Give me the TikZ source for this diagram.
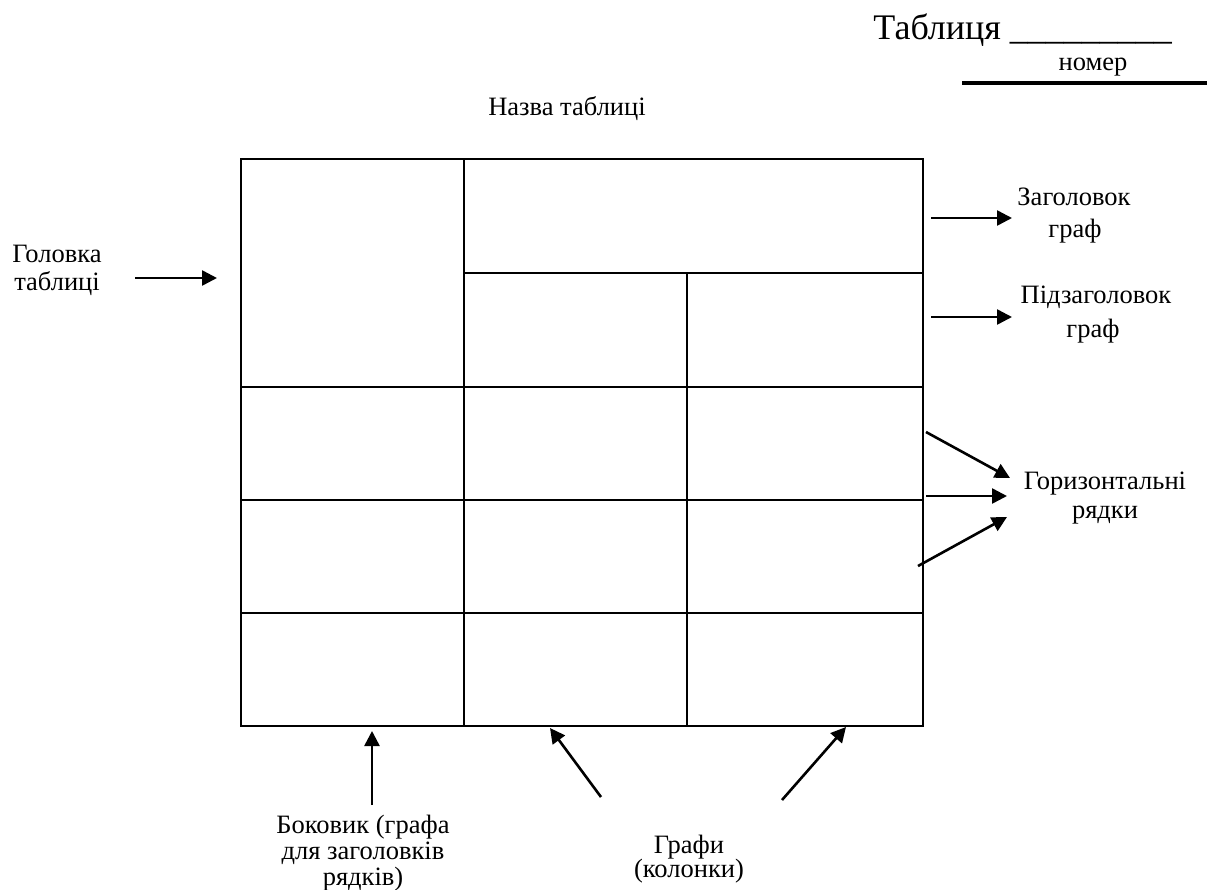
\documentclass[tikz,border=0pt]{standalone}
\usepackage{fontspec}
\setmainfont{Liberation Serif}
\usetikzlibrary{arrows.meta}
\begin{document}
\begin{tikzpicture}[x=0.5pt,y=-0.5pt,
  gridline/.style={line width=1pt},
  arr/.style={line width=1.3pt,-{Triangle[length=7.5pt,width=7.5pt]}},
  lbl/.style={font=\fontsize{13.25}{15}\selectfont,inner sep=0pt,anchor=base},
  big/.style={font=\fontsize{18}{20}\selectfont,inner sep=0pt,anchor=base west}]
\useasboundingbox (0,0) rectangle (1207,890);
% header
\node[big] (tab) at (873,39) {Таблиця \_\_\_\_\_\_\_\_\_};
\node[lbl] (nom) at (1093,70) {номер};
\draw[line width=2pt] (962,83) -- (1207,83);
\node[lbl] (title) at (567,115) {Назва таблиці};
% table
\draw[gridline] (241,159) rectangle (923,726);
\draw[gridline] (464,159) -- (464,726);
\draw[gridline] (687,273) -- (687,726);
\draw[gridline] (464,273) -- (923,273);
\draw[gridline] (241,387) -- (923,387);
\draw[gridline] (241,500) -- (923,500);
\draw[gridline] (241,613) -- (923,613);
% labels
\node[lbl] (head1) at (57,262) {Головка};
\node[lbl] (head2) at (57,290) {таблиці};
\node[lbl] (zag1) at (1074,205) {Заголовок};
\node[lbl] (zag2) at (1075,237) {граф};
\node[lbl] (pid1) at (1096,303) {Підзаголовок};
\node[lbl] (pid2) at (1093,337) {граф};
\node[lbl] (hor1) at (1105,489) {Горизонтальні};
\node[lbl] (hor2) at (1105,518) {рядки};
\node[lbl] (bok1) at (363,833) {Боковик (графа};
\node[lbl] (bok2) at (363,859) {для заголовків};
\node[lbl] (bok3) at (363,885) {рядків)};
\node[lbl] (gr1) at (689,853) {Графи};
\node[lbl] (gr2) at (689,877) {(колонки)};
% arrow ends
\coordinate (a1s) at (135,278); \coordinate (a1e) at (217,278);
\coordinate (a2s) at (931,218); \coordinate (a2e) at (1012,218);
\coordinate (a3s) at (931,317); \coordinate (a3e) at (1012,317);
\coordinate (a4s) at (926,432); \coordinate (a4e) at (1010,478);
\coordinate (a5s) at (926,496); \coordinate (a5e) at (1007,496);
\coordinate (a6s) at (918,566); \coordinate (a6e) at (1007,517);
\coordinate (a7s) at (372,805); \coordinate (a7e) at (372,731);
\coordinate (a8s) at (601,797); \coordinate (a8e) at (550,728);
\coordinate (a9s) at (782,800); \coordinate (a9e) at (846,727);
\foreach \i in {1,...,9} {\draw[arr] (a\i s) -- (a\i e);}
\end{tikzpicture}
\end{document}
